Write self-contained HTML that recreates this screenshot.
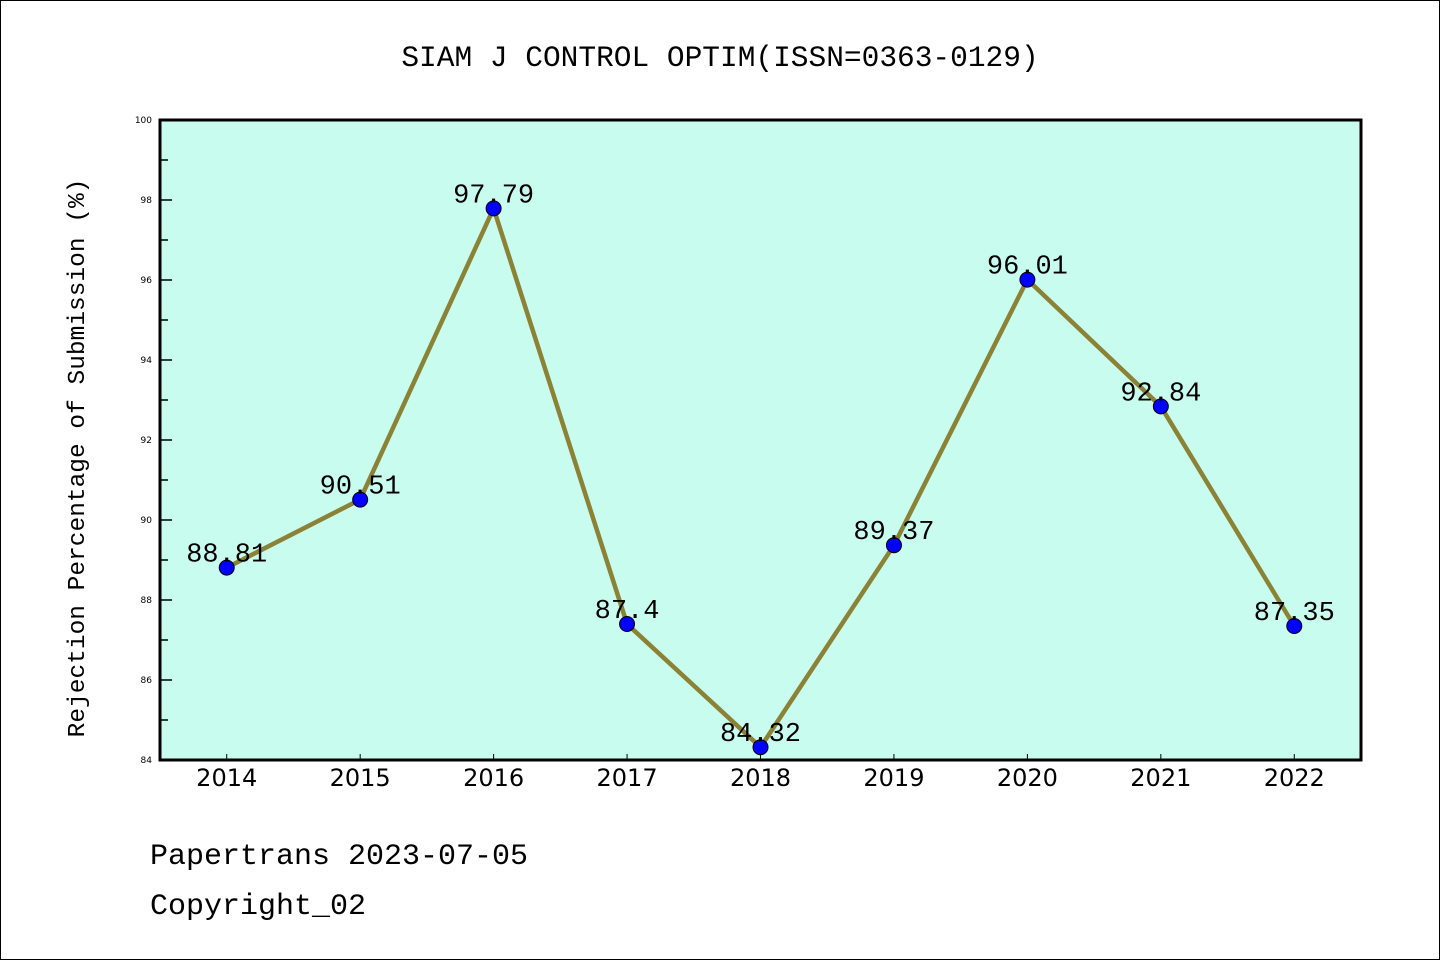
<!DOCTYPE html>
<html><head><meta charset="utf-8"><style>
html,body{margin:0;padding:0;background:#fff}
svg{display:block}
text{font-family:"Liberation Mono",monospace}
.sans{font-family:"DejaVu Sans","Liberation Sans",sans-serif}
</style></head><body>
<svg id="chart" width="1440" height="960" xmlns="http://www.w3.org/2000/svg">
<rect x="0.5" y="0.5" width="1439" height="959" fill="#fff" stroke="#000" stroke-width="1"/>
<text x="720" y="66" text-anchor="middle" font-size="29.5">SIAM J CONTROL OPTIM(ISSN=0363-0129)</text>
<rect x="160" y="120" width="1201" height="640" fill="#c8fcee"/>
<g id="yticks"></g><g id="xticks"></g>
<g id="series"></g>
<rect x="160" y="120" width="1201" height="640" fill="none" stroke="#000" stroke-width="3"/>
<text transform="translate(84,458) rotate(-90)" text-anchor="middle" font-size="24.5">Rejection Percentage of Submission (%)</text>
<text x="150" y="864" font-size="30">Papertrans 2023-07-05</text>
<text x="150" y="914" font-size="30">Copyright_02</text>
</svg>
<script>
const categories=["2014","2015","2016","2017","2018","2019","2020","2021","2022"];
const values=[88.81,90.51,97.79,87.4,84.32,89.37,96.01,92.84,87.35];
const labels=["88.81","90.51","97.79","87.4","84.32","89.37","96.01","92.84","87.35"];
const yTicks=[84,86,88,90,92,94,96,98,100];
const NS="http://www.w3.org/2000/svg";
const L=160,R=1361,T=120,B=760,yMin=84,yMax=100;
function xs(i){return L+(i+0.5)*(R-L)/categories.length;}
function ys(v){return B-(v-yMin)/(yMax-yMin)*(B-T);}
function mk(tag,attrs,parent){const e=document.createElementNS(NS,tag);for(const k in attrs)e.setAttribute(k,attrs[k]);parent.appendChild(e);return e;}
const yg=document.getElementById('yticks'),xg=document.getElementById('xticks'),sg=document.getElementById('series');
yTicks.forEach((v,i)=>{
  const l=mk('line',{x1:L,x2:L+12,y1:ys(v),y2:ys(v),stroke:'#000','stroke-width':1.5},yg);
  
  
  const t=mk('text',{x:L-8,y:ys(v)+3,'text-anchor':'end','font-size':9,'class':'sans'},yg);
  t.textContent=v;
  
  
  if(i<yTicks.length-1){
    const m=mk('line',{x1:L,x2:L+8,y1:ys(v+1),y2:ys(v+1),stroke:'#000','stroke-width':1.5},yg);
    
    
  }
});
categories.forEach((c,i)=>{
  const l=mk('line',{x1:xs(i),x2:xs(i),y1:B,y2:B-6,stroke:'#000','stroke-width':1},xg);
  
  
  const t=mk('text',{x:xs(i),y:B+26,'text-anchor':'middle','font-size':24,'class':'sans'},xg);
  t.textContent=c;
  
  
});
const pl=mk('polyline',{points:values.map((v,i)=>xs(i)+','+ys(v)).join(' '),fill:'none',stroke:'#8b8236','stroke-width':4.5,'stroke-linejoin':'round'},sg);


values.forEach((v,i)=>{
  const c=mk('circle',{cx:xs(i),cy:ys(v),r:7.5,fill:'#0000ff',stroke:'#000','stroke-width':1},sg);
  
  
});
values.forEach((v,i)=>{
  const t=mk('text',{x:xs(i),y:ys(v)-6,'text-anchor':'middle','font-size':27},sg);
  t.textContent=labels[i];
  
  
});
</script>
</body></html>
